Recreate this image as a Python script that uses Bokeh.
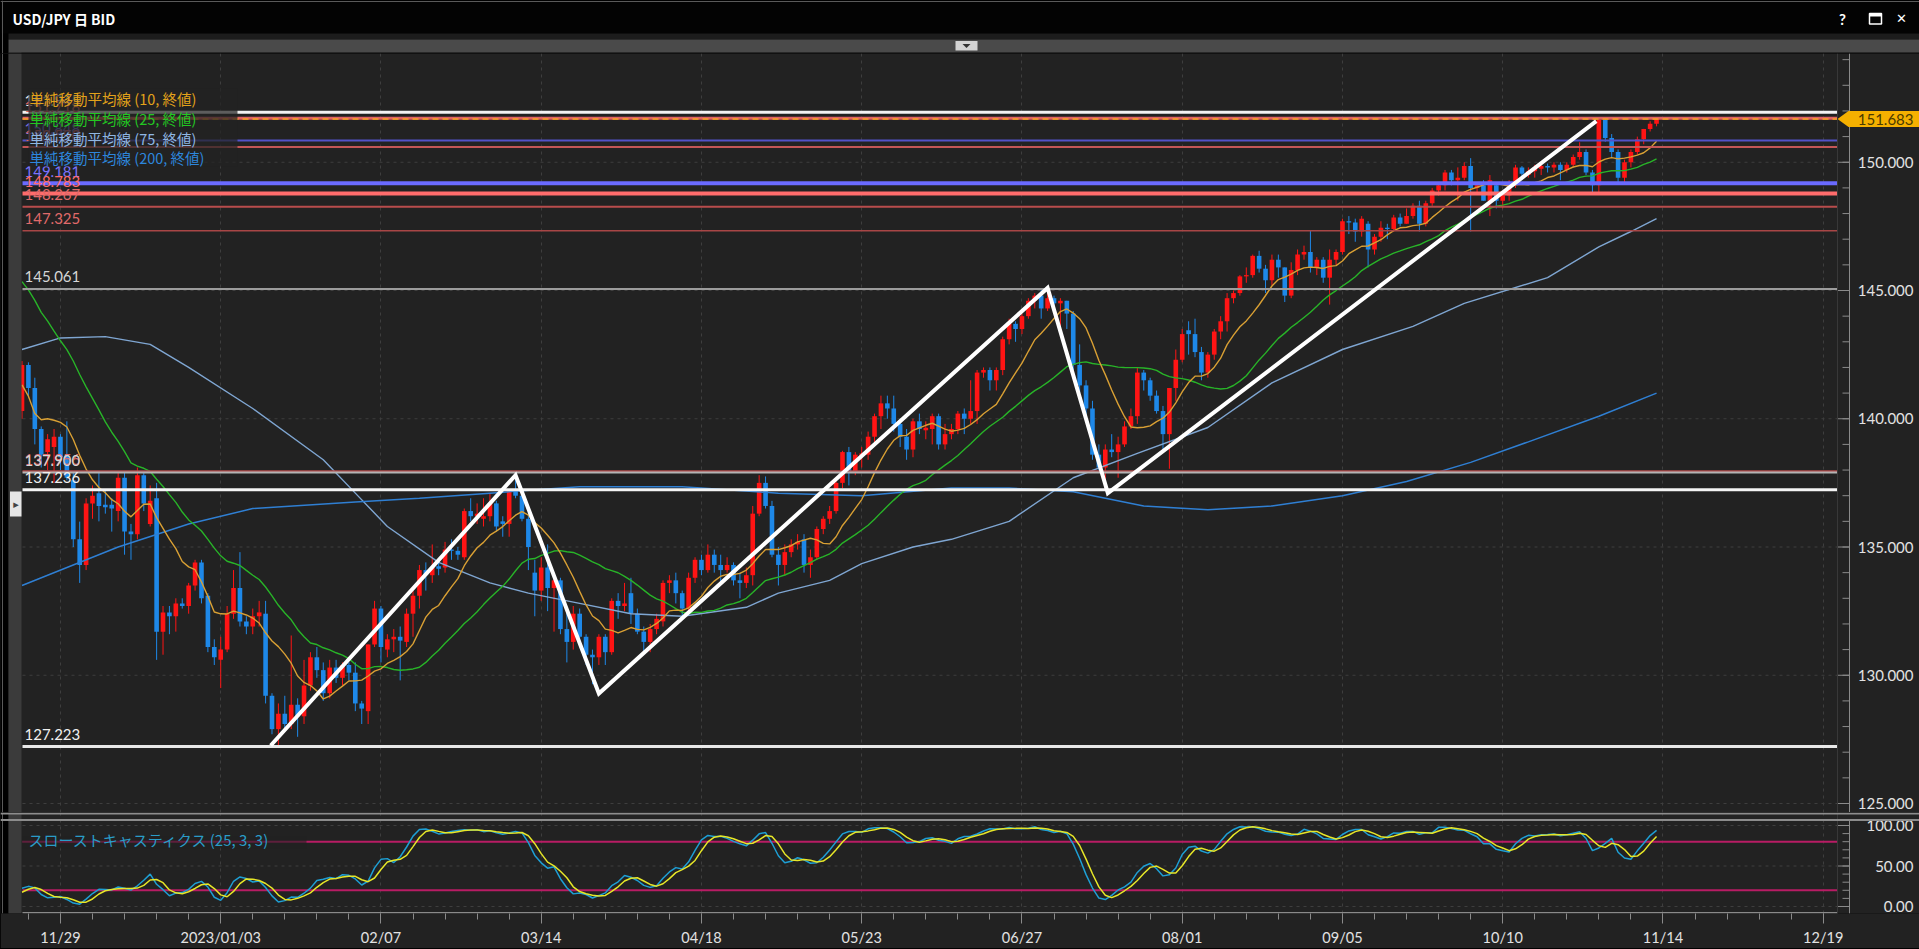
import numpy as np
import pandas as pd
from bokeh.plotting import figure
from bokeh.layouts import column
from bokeh.models import (Range1d, FixedTicker, Grid, Span, ColumnDataSource)
from bokeh.core.properties import value
from bokeh.embed import file_html
from bokeh.resources import INLINE

# ---------------------------------------------------------------- data
start_date = "2022-11-21"

# bars before the visible window (only used for the indicators)
pre_high = [145.9, 146.0, 146.9, 147.7, 148.9, 149.1, 149.3, 149.9, 150.3, 151.9,
            149.7, 149.1, 148.2, 146.9, 148.0, 148.8, 148.8, 148.4, 148.4, 148.4,
            147.3, 146.6, 146.8, 146.8, 142.5, 140.8, 140.2, 140.0, 140.8, 140.6]
pre_low = [145.3, 145.4, 145.7, 146.5, 146.9, 148.4, 148.9, 149.1, 149.6, 146.2,
           145.5, 147.5, 145.9, 145.1, 145.7, 147.1, 146.9, 145.7, 147.0, 146.6,
           145.9, 145.3, 145.2, 140.9, 138.5, 138.8, 137.7, 138.9, 139.1, 139.6]
pre_close = [145.7, 145.8, 146.8, 147.2, 148.7, 149.0, 149.2, 149.9, 150.2, 147.7,
             149.0, 148.0, 146.4, 146.3, 147.5, 148.7, 148.2, 147.9, 148.2, 146.6,
             146.6, 145.6, 146.4, 141.0, 138.8, 139.9, 139.3, 139.5, 140.2, 140.4]

opens = [
    140.3, 142.1, 141.2, 139.6, 138.7,   138.9, 139.3, 138.6, 137.6, 135.3,
    134.3, 136.7, 137.1, 136.65, 136.65, 136.4, 137.7, 135.6, 135.5, 137.8,
    135.9, 136.9, 131.7, 132.45, 132.3,  132.8, 132.7, 133.5, 134.4, 133.1,
    131.1, 130.6, 131.0, 132.4, 133.4,   132.1, 131.9, 132.3, 132.4, 129.2,
    127.9, 128.5, 128.1, 128.85, 128.4,  129.6, 130.7, 130.2, 129.3, 130.3,
    129.9, 130.4, 130.1, 128.9, 128.6,   131.2, 132.6, 131.0, 131.4, 131.5,
    131.3, 132.4, 133.1, 134.1, 133.9,   134.25, 134.2, 134.9, 134.85, 134.6,
    136.4, 136.2, 136.1, 136.2, 136.7,   136.0, 135.9, 137.2, 137.0, 136.1,
    134.0, 133.3, 134.2, 133.4, 133.7,   131.8, 131.3, 132.4, 131.5, 130.8,
    130.7, 131.5, 130.9, 132.9, 132.7,   133.2, 132.4, 131.7, 131.3, 131.8,
    132.1, 133.6, 133.7, 133.2, 132.6,   133.8, 134.5, 134.1, 134.7, 134.3,
    134.1, 134.3, 133.7, 133.6, 133.9,   136.3, 137.5, 136.6, 134.7, 134.3,
    134.8, 135.1, 135.3, 134.3, 134.6,   135.7, 136.1, 136.4, 137.5, 138.7,
    137.95, 138.55, 138.6, 139.3, 140.1, 140.6, 140.4, 139.8, 139.3, 138.8,
    139.9, 139.55, 139.6, 140.1, 139.0,  139.4, 139.6, 140.2, 140.0, 140.3,
    141.8, 141.9, 141.5, 141.9, 143.1,   143.7, 143.5, 144.0, 144.6, 144.8,
    144.3, 144.7, 144.5, 144.6, 144.1,   142.1, 141.3, 140.4, 138.6, 138.1,
    138.8, 138.7, 139.0, 139.7, 140.1,   141.8, 141.5, 140.9, 140.3, 139.4,
    141.2, 142.3, 143.45, 143.3, 142.6,  141.8, 142.5, 143.4, 143.8, 144.7,
    144.9, 145.55, 145.6, 146.35, 145.85, 145.4, 146.2, 145.9, 144.8, 145.8,
    146.4, 146.5, 145.9, 146.2, 145.5,   146.2, 146.5, 147.7, 147.65, 147.3,
    147.6, 146.6, 147.1, 147.45, 147.4,  147.85, 147.6, 147.9, 148.3, 147.6,
    148.4, 148.9, 149.1, 149.6, 149.3,   149.4, 149.85, 149.0, 149.1, 148.5,
    149.1, 148.5, 148.7, 149.1, 149.8,   149.5, 149.65, 149.75, 149.85, 149.8,
    149.9, 149.7, 149.9, 150.2, 150.4,   149.6, 149.1, 151.65, 150.95, 150.4,
    149.4, 150.0, 150.4, 150.9, 151.3,   151.5]
highs = [
    142.25, 142.2, 141.6, 139.7, 139.4,  139.6, 139.4, 139.9, 137.9, 135.99,
    136.9, 137.4, 137.9, 137.2, 136.9,   137.9, 137.9, 135.9, 138.1, 137.9,
    137.4, 137.5, 132.7, 132.7, 133.0,   133.0, 133.6, 134.5, 134.5, 133.2,
    131.4, 131.5, 132.7, 134.1, 134.8,   132.3, 132.6, 132.9, 132.9, 129.3,
    128.9, 129.2, 131.55, 129.1, 130.6,  130.9, 131.1, 130.5, 130.6, 130.6,
    130.5, 130.5, 130.5, 129.0, 131.2,   132.9, 132.7, 131.6, 131.8, 131.9,
    132.6, 133.3, 134.3, 134.4, 135.1,   134.5, 135.2, 135.3, 135.0, 136.5,
    136.9, 136.7, 136.9, 137.1, 136.8,   136.2, 137.2, 137.9, 137.2, 136.6,
    134.5, 134.6, 135.1, 133.8, 133.8,   132.6, 132.7, 132.6, 131.6, 131.0,
    131.6, 131.6, 133.0, 133.2, 133.6,   133.8, 132.6, 131.9, 132.0, 132.4,
    133.7, 133.9, 134.0, 133.3, 134.0,   134.6, 134.7, 135.1, 134.9, 134.7,
    134.6, 134.4, 134.0, 134.2, 136.6,   137.8, 137.75, 136.8, 135.0, 135.1,
    135.3, 135.5, 135.5, 134.9, 135.8,   136.2, 136.6, 137.6, 138.75, 138.9,
    138.7, 138.9, 139.5, 140.2, 140.9,   140.9, 140.9, 140.0, 139.6, 140.0,
    140.2, 139.9, 140.2, 140.2, 139.8,   139.8, 140.3, 140.4, 141.5, 141.9,
    142.0, 142.0, 142.0, 143.2, 143.9,   143.8, 144.1, 144.7, 144.9, 145.07,
    144.9, 144.8, 144.7, 144.6, 144.2,   142.9, 141.5, 140.7, 139.0, 139.0,
    139.4, 139.3, 139.9, 140.4, 142.0,   141.9, 141.6, 141.1, 140.5, 141.2,
    142.7, 143.5, 143.8, 143.9, 142.8,   142.6, 143.5, 144.0, 144.9, 145.0,
    145.6, 145.9, 146.4, 146.55, 146.0,  146.4, 146.4, 145.9, 146.1, 146.6,
    146.75, 147.35, 146.3, 146.3, 146.6, 146.6, 147.8, 147.9, 147.8, 147.9,
    147.7, 147.2, 147.7, 147.6, 147.95,  148.0, 148.2, 148.4, 148.5, 148.5,
    149.0, 149.2, 149.7, 149.7, 149.8,   150.0, 150.16, 149.2, 149.3, 149.5,
    149.2, 148.9, 149.3, 149.9, 149.85,  149.8, 149.9, 149.9, 149.95, 150.0,
    150.0, 150.0, 150.3, 150.78, 150.5,  149.7, 151.7, 151.7, 151.1, 150.5,
    150.1, 150.5, 151.0, 151.3, 151.6,   151.75]
lows = [
    140.0, 140.9, 139.0, 138.1, 138.0,   137.5, 138.0, 137.6, 135.0, 133.6,
    134.1, 136.1, 136.0, 136.3, 135.6,   136.0, 134.7, 134.5, 135.3, 136.4,
    135.8, 130.6, 130.8, 131.6, 131.7,   132.6, 132.4, 133.3, 132.8, 130.9,
    130.4, 129.5, 130.9, 132.2, 131.9,   131.6, 131.6, 131.9, 128.9, 127.7,
    127.22, 127.9, 127.9, 127.6, 128.1,  129.4, 129.9, 129.0, 129.1, 129.7,
    129.6, 129.8, 128.6, 128.1, 128.1,   131.1, 130.5, 130.7, 130.9, 129.8,
    131.1, 131.5, 132.6, 133.3, 133.6,   133.9, 134.0, 134.5, 134.5, 134.5,
    136.0, 135.9, 135.8, 136.0, 135.6,   135.4, 135.4, 136.9, 136.0, 134.1,
    132.3, 132.9, 132.5, 131.7, 131.6,   130.5, 131.0, 131.3, 130.4, 129.65,
    130.4, 130.4, 130.8, 132.2, 132.5,   132.0, 131.6, 130.85, 130.9, 131.6,
    131.9, 133.2, 132.8, 132.2, 132.5,   133.6, 133.9, 134.0, 134.0, 133.6,
    134.0, 133.5, 133.0, 133.4, 133.5,   136.2, 136.5, 134.6, 133.5, 133.9,
    134.6, 134.9, 134.0, 133.8, 134.5,   135.5, 135.9, 136.3, 137.3, 137.4,
    137.8, 138.1, 138.4, 139.1, 139.6,   140.0, 139.5, 138.9, 138.4, 138.5,
    139.4, 139.2, 139.0, 138.8, 138.8,   139.2, 139.4, 139.4, 139.8, 139.8,
    141.6, 141.1, 141.1, 141.7, 142.9,   143.0, 143.3, 143.9, 144.3, 143.9,
    144.2, 144.3, 143.6, 143.5, 141.9,   141.0, 140.1, 138.4, 137.9, 137.24,
    138.5, 137.7, 138.9, 139.6, 139.8,   141.1, 140.7, 140.2, 138.8, 138.05,
    140.7, 142.2, 142.5, 142.4, 141.5,   141.6, 142.3, 143.1, 143.4, 144.5,
    144.8, 145.3, 145.5, 145.7, 144.9,   145.2, 145.5, 144.55, 144.7, 145.6,
    146.2, 145.7, 145.6, 145.3, 144.45,  146.0, 146.4, 147.2, 146.9, 147.1,
    145.9, 146.4, 146.9, 147.0, 147.3,   147.5, 147.6, 147.8, 147.3, 147.5,
    148.3, 148.7, 148.9, 149.1, 148.5,   149.3, 147.3, 148.8, 148.5, 147.9,
    148.2, 148.2, 148.5, 149.0, 149.3,   149.4, 149.4, 149.5, 149.6, 149.6,
    149.3, 149.6, 149.8, 150.1, 149.5,   148.8, 148.8, 150.8, 150.2, 149.2,
    149.2, 149.8, 150.3, 150.7, 151.2,   151.4]
closes = [
    142.1, 141.2, 139.6, 138.6, 139.2,   139.3, 138.5, 137.7, 135.3, 134.3,
    136.7, 137.0, 136.6, 136.55, 136.5,  137.7, 135.6, 135.5, 137.8, 136.7,
    136.8, 131.7, 132.45, 132.3, 132.8,  132.7, 133.5, 134.4, 133.0, 131.1,
    130.7, 131.0, 132.4, 133.4, 132.1,   131.9, 132.3, 132.45, 129.2, 127.9,
    128.5, 128.1, 128.85, 128.4, 129.6,  130.7, 130.2, 129.3, 130.3, 129.9,
    130.4, 130.1, 128.9, 128.7, 131.2,   132.6, 131.1, 131.4, 131.5, 131.35,
    132.4, 133.1, 134.1, 133.9, 134.2,   134.15, 134.9, 134.85, 134.7, 136.4,
    136.2, 136.3, 136.2, 136.7, 135.8,   135.9, 137.2, 137.0, 136.1, 135.0,
    133.3, 134.2, 133.4, 133.7, 131.8,   131.3, 132.4, 131.5, 130.8, 130.7,
    131.5, 130.9, 132.9, 132.7, 132.8,   132.4, 131.7, 131.3, 131.8, 132.2,
    133.6, 133.7, 133.2, 132.6, 133.8,   134.5, 134.1, 134.7, 134.3, 134.1,
    134.3, 133.7, 133.6, 133.9, 136.3,   137.5, 136.6, 134.7, 134.3, 134.8,
    135.1, 135.2, 134.3, 134.6, 135.7,   136.1, 136.4, 137.5, 138.7, 137.95,
    138.6, 138.65, 139.3, 140.1, 140.6,  140.4, 139.8, 139.3, 138.8, 139.9,
    139.6, 139.65, 140.1, 139.0, 139.4,  139.6, 140.2, 140.0, 140.3, 141.8,
    141.9, 141.5, 141.9, 143.1, 143.7,   143.5, 144.0, 144.6, 144.8, 144.3,
    144.7, 144.5, 144.6, 144.1, 142.1,   141.3, 140.4, 138.6, 138.1, 138.8,
    138.7, 139.0, 139.7, 140.1, 141.8,   141.5, 140.9, 140.3, 139.4, 141.2,
    142.3, 143.3, 143.3, 142.6, 141.8,   142.5, 143.4, 143.8, 144.7, 144.9,
    145.55, 145.6, 146.35, 145.85, 145.4, 146.2, 145.9, 144.8, 145.8, 146.4,
    146.5, 145.9, 146.2, 145.5, 146.2,   146.5, 147.7, 147.65, 147.3, 147.8,
    146.6, 147.1, 147.45, 147.4, 147.85, 147.6, 147.9, 148.3, 147.6, 148.4,
    148.9, 149.1, 149.6, 149.3, 149.4,   149.85, 149.0, 149.1, 148.5, 149.3,
    148.5, 148.7, 149.1, 149.8, 149.55,  149.65, 149.8, 149.85, 149.8, 149.9,
    149.7, 149.9, 150.2, 150.4, 149.6,   149.1, 151.65, 150.95, 150.4, 149.4,
    150.0, 150.4, 150.9, 151.3, 151.5,   151.683]

# long moving averages (bar index, value)
ma75_bar = [0, 6, 13, 20, 26, 36, 47, 52, 57, 65, 73, 79, 87, 95, 103, 113, 118, 126,
            131, 139, 145, 154, 164, 174, 185, 195, 206, 217, 225, 238, 246, 251, 255]
ma75_val = [142.7, 143.15, 143.2, 142.9, 142.0, 140.4, 138.4, 137.1, 135.8, 134.4,
            133.6, 133.2, 132.8, 132.4, 132.3, 132.65, 133.2, 133.7, 134.35, 135.0,
            135.3, 136.0, 137.7, 138.65, 139.66, 141.4, 142.7, 143.6, 144.5, 145.5,
            146.7, 147.3, 147.8]
ma200_bar = [0, 15, 26, 36, 52, 62, 73, 87, 103, 118, 131, 145, 154, 164, 175, 185,
             195, 206, 216, 226, 235, 246, 255]
ma200_val = [133.5, 135.0, 135.9, 136.5, 136.75, 136.9, 137.1, 137.35, 137.35, 137.1,
             137.0, 137.3, 137.3, 137.15, 136.6, 136.45, 136.6, 137.0, 137.55, 138.3,
             139.1, 140.1, 141.0]

# horizontal support / resistance lines
level_vals = [151.945, 151.718, 150.848, 150.590, 149.181, 148.783, 148.267, 147.325,
              145.061, 137.956, 137.900, 137.236, 127.223]
# zig-zag trend line (bar index, price)
trend_bar = [38.8, 77, 90, 160, 169.4, 245.6]
trend_val = [127.26, 137.8, 129.29, 145.1, 137.1, 151.6]

price_ticks = [125, 130, 135, 140, 145, 150]
price_minor = list(range(124, 155))
stoch_ticks = [0, 50, 100]
stoch_minor = list(range(0, 101, 10))
stoch_levels = [80, 20]
tick_dates = ["2022-11-29", "2023-01-03", "2023-02-07", "2023-03-14", "2023-04-18",
              "2023-05-23", "2023-06-27", "2023-08-01", "2023-09-05", "2023-10-10",
              "2023-11-14", "2023-12-19"]
tick_labels = ["11/29", "2023/01/03", "02/07", "03/14", "04/18", "05/23", "06/27",
               "08/01", "09/05", "10/10", "11/14", "12/19"]
ma_legend = ["単純移動平均線 (10, 終値)", "単純移動平均線 (25, 終値)",
             "単純移動平均線 (75, 終値)", "単純移動平均線 (200, 終値)"]
title_text = "USD/JPY 日 BID"
stoch_title = "スローストキャスティクス (25, 3, 3)"

# ---------------------------------------------------------------- geometry helpers (page px -> data)
BAR0_PX, BAR_PX = 21.5, 6.41
def bx(px):
    return (px - BAR0_PX) / BAR_PX
def py(y):
    return 125 + (803 - y) / 25.65
def sy(y):
    return 100 - (y - 825) / 0.81

# ---------------------------------------------------------------- derived
n = len(closes)
bars = np.arange(n)
bdays = pd.bdate_range(start_date, periods=320)
tick_pos = [int(bdays.get_loc(pd.Timestamp(d))) for d in tick_dates]
minor_pos = [i for i, d in enumerate(bdays) if d.dayofweek == 1 and i <= bx(1837)]

all_c = pd.Series(pre_close + closes)
all_h = pd.Series(pre_high + highs)
all_l = pd.Series(pre_low + lows)
ma10 = all_c.rolling(10).mean().values[-n:]
ma25 = all_c.rolling(25).mean().values[-n:]
hh = all_h.rolling(25).max()
ll = all_l.rolling(25).min()
raw_k = 100 * (all_c - ll) / (hh - ll)
slow_k = raw_k.rolling(3).mean()
slow_d = slow_k.rolling(3).mean()
slow_k = slow_k.values[-n:]
slow_d = slow_d.values[-n:]

o = np.array(opens); c = np.array(closes)
body_top = np.maximum(o, c)
body_bot = np.minimum(o, c)
thin = (body_top - body_bot) < 0.04
body_top = np.where(thin, body_top + 0.02, body_top)
body_bot = np.where(thin, body_bot - 0.02, body_bot)
UP, DOWN = "#ff1414", "#1e88e8"
cols = [UP if cc >= oo else DOWN for oo, cc in zip(opens, closes)]

W = 1919
BG = "#222222"
AX = "#8a8a8a"
TXT = "#e2e2e2"
GRID = "#3e3e3e"
JP = value("Noto Sans CJK JP")
LATO = value("Lato")
X_LEFT, X_END, X_AXIS = bx(22), bx(1837), bx(1849)

# ---------------------------------------------------------------- header
hdr = figure(width=W, height=53, x_range=Range1d(0, W), y_range=Range1d(53, 0),
             toolbar_location=None, output_backend="svg", min_border=0,
             x_axis_location=None, y_axis_location=None,
             background_fill_color="#000000", border_fill_color="#000000",
             outline_line_color=None)
hdr.grid.visible = False
hdr.quad(left=[0, 8, 8, 8], right=[W] * 4, top=[0, 33, 39, 52], bottom=[33, 39, 52, 53],
         fill_color=["#030303", "#1c1c1c", "#4a4a4a", "#2c2c2c"], line_color=None)
hdr.segment(x0=[0, 2], y0=[1, 0], x1=[W, 2], y1=[1, 53], line_color="#5a5a5a", line_width=1)
hdr.text(x=[12], y=[18], text=[title_text], text_color="#ffffff", text_font=JP,
         text_font_style="bold", text_font_size="14px", text_baseline="middle")
hdr.text(x=[1842], y=[18], text=["?"], text_color="#ffffff", text_font=LATO,
         text_font_style="bold", text_font_size="15px", text_baseline="middle", text_align="center")
hdr.quad(left=[1869], right=[1881], top=[13], bottom=[23.5], fill_color=None,
         line_color="#ffffff", line_width=1.5)
hdr.quad(left=[1869], right=[1881], top=[13], bottom=[16], fill_color="#ffffff", line_color=None)
hdr.text(x=[1901], y=[18], text=["✕"], text_color="#ffffff", text_font=value("DejaVu Sans"),
         text_font_style="bold", text_font_size="13px", text_baseline="middle", text_align="center")
hdr.quad(left=[955], right=[977], top=[40.5], bottom=[50], fill_color="#d4d4d4", line_color=None)
hdr.patch(x=[962, 970, 966], y=[43.5, 43.5, 47.5], fill_color="#333333", line_color=None)
hdr.quad(left=[8], right=[21], top=[52], bottom=[53], fill_color="#3b3b3b", line_color=None)

# ---------------------------------------------------------------- main price panel
main = figure(width=W, height=759, x_range=Range1d(bx(0), bx(W)),
              y_range=Range1d(py(812), py(53)), toolbar_location=None, output_backend="svg",
              x_axis_location=None, y_axis_location=None, min_border=0,
              background_fill_color=BG, border_fill_color=BG, outline_line_color=None)
main.grid.visible = False
main.add_layout(Grid(dimension=0, ticker=FixedTicker(ticks=tick_pos), grid_line_color=GRID,
                     grid_line_dash="3 4", grid_line_width=1))
main.segment(x0=X_LEFT, x1=X_END, y0=price_ticks, y1=price_ticks, line_color=GRID,
             line_dash="3 4", line_width=1)
main.add_layout(Span(location=X_END, dimension="height", line_color="#383838", line_width=1))

# price axis (right side)
main.segment(x0=X_AXIS, x1=X_AXIS, y0=py(53), y1=py(812), line_color=AX, line_width=1)
main.segment(x0=bx(1837), x1=X_AXIS, y0=price_ticks, y1=price_ticks, line_color=AX, line_width=1)
main.segment(x0=bx(1842), x1=X_AXIS, y0=price_minor, y1=price_minor, line_color=AX, line_width=1)
main.text(x=[bx(1913)] * len(price_ticks), y=price_ticks, text=[f"{t:.3f}" for t in price_ticks],
          text_color=TXT, text_font=LATO, text_font_size="15px", text_baseline="middle",
          text_align="right")

# candles
src = ColumnDataSource(dict(x=bars, h=highs, l=lows, top=body_top, bot=body_bot, col=cols))
main.segment(x0="x", y0="h", x1="x", y1="l", line_color="col", line_width=1, source=src)
main.vbar(x="x", width=0.72, top="top", bottom="bot", fill_color="col", line_color=None, source=src)

# moving averages
main.line(ma75_bar, ma75_val, line_color="#7fa6d2", line_width=1.4)
main.line(ma200_bar, ma200_val, line_color="#2f7fd3", line_width=1.5)
main.line(bars, ma25, line_color="#28b428", line_width=1.4)
main.line(bars, ma10, line_color="#d9a034", line_width=1.4)

# support / resistance lines
level_colors = ["#f2f2f2", "#e06262", "#5252c8", "#c45656", "#6a6aff", "#ff6c6c", "#b84c4c",
                "#a84646", "#9c9c9c", "#b04a4a", "#b4b4b4", "#f4f4f4", "#e8e8e8"]
level_widths = [3, 3, 2, 2, 4, 4, 2, 1.5, 2, 2, 2, 3, 3]
level_text_colors = ["#f0f0f0", "#e06262", "#7a70e0", "#d86464", "#7a72ff", "#ff6c6c", "#e06a6a",
                     "#e06a6a", "#d6d6d6", "#e06a6a", "#d6d6d6", "#f0f0f0", "#f0f0f0"]
main.segment(x0=X_LEFT, x1=X_END, y0=level_vals, y1=level_vals,
             line_color=level_colors, line_width=level_widths)
main.text(x=[bx(24)] * len(level_vals), y=level_vals, text=[f"{v:.3f}" for v in level_vals],
          text_color=level_text_colors, text_font=LATO, text_font_size="15px",
          text_baseline="middle", y_offset=-12)

last_price = closes[-1]
main.segment(x0=X_LEFT, x1=X_END, y0=last_price, y1=last_price, line_color="#f5a623",
             line_width=1.5, line_dash="6 4")

# zig-zag trend line
main.line(trend_bar, trend_val, line_color="#ffffff", line_width=4, line_join="miter")

# legend box + legend
main.quad(left=[bx(28)], right=[bx(237)], top=[py(88)], bottom=[py(166)], fill_color=BG,
          fill_alpha=0.72, line_color=None)
main.text(x=[bx(29)] * 4, y=[py(98), py(118), py(138), py(157)], text=ma_legend,
          text_color=["#e3a21a", "#22c722", "#8fb6e2", "#2d86dc"], text_font=JP,
          text_font_size="14.5px", text_baseline="middle")

# left frame + side bar
main.quad(left=[bx(0), bx(8)], right=[bx(8), bx(21)], top=[py(53)] * 2, bottom=[py(812)] * 2,
          fill_color=["#000000", "#3b3b3b"], line_color=None)
main.segment(x0=[bx(2)], x1=[bx(2)], y0=[py(53)], y1=[py(812)], line_color="#5a5a5a", line_width=1)
main.quad(left=[bx(9.5)], right=[bx(21)], top=[py(491)], bottom=[py(516)], fill_color="#e6e6e6",
          line_color=None)
main.text(x=[bx(15.5)], y=[py(503.5)], text=["▸"], text_color="#444444",
          text_font=value("DejaVu Sans"), text_font_size="11px", text_baseline="middle",
          text_align="center")

# current-price tag on the axis
half = 8 / 25.65
main.patch(x=[bx(1837), bx(1848), bx(W), bx(W), bx(1848)],
           y=[last_price, last_price + half, last_price + half, last_price - half, last_price - half],
           fill_color="#f5b000", line_color=None)
main.text(x=[bx(1913)], y=[last_price], text=[f"{last_price:.3f}"], text_color="#4a3a00",
          text_font=LATO, text_font_size="15px", text_baseline="middle", text_align="right")

# ---------------------------------------------------------------- stochastics panel
sto = figure(width=W, height=136, x_range=main.x_range, y_range=Range1d(sy(913), sy(812)),
             toolbar_location=None, output_backend="svg", y_axis_location=None,
             min_border_left=0, min_border_right=0, min_border_top=0, min_border_bottom=35,
             background_fill_color=BG, border_fill_color=BG, outline_line_color=None)
sto.grid.visible = False
sto.add_layout(Grid(dimension=0, ticker=FixedTicker(ticks=tick_pos), grid_line_color=GRID,
                    grid_line_dash="3 4"))
sto.segment(x0=X_LEFT, x1=X_END, y0=stoch_ticks, y1=stoch_ticks, line_color=GRID,
            line_dash="3 4", line_width=1)
sto.add_layout(Span(location=X_END, dimension="height", line_color="#383838", line_width=1))

sax = sto.xaxis[0]
sax.ticker = FixedTicker(ticks=tick_pos, minor_ticks=minor_pos)
sax.major_label_overrides = {p: t for p, t in zip(tick_pos, tick_labels)}
sax.axis_line_color = None
sax.major_tick_line_color = AX
sax.minor_tick_line_color = AX
sax.major_tick_in = 0
sax.major_tick_out = 10
sax.minor_tick_in = 0
sax.minor_tick_out = 6
sax.major_label_standoff = 5
sax.major_label_text_color = TXT
sax.major_label_text_font = "Lato"
sax.major_label_text_font_size = "14.5px"

# stochastic axis (right side)
sto.segment(x0=X_AXIS, x1=X_AXIS, y0=sy(819.5), y1=sy(913), line_color=AX, line_width=1)
sto.segment(x0=bx(1837), x1=X_AXIS, y0=stoch_ticks, y1=stoch_ticks, line_color=AX, line_width=1)
sto.segment(x0=bx(1842), x1=X_AXIS, y0=stoch_minor, y1=stoch_minor, line_color=AX, line_width=1)
sto.text(x=[bx(1913)] * 3, y=stoch_ticks, text=[f"{t:.2f}" for t in stoch_ticks],
         text_color=TXT, text_font=LATO, text_font_size="15px", text_baseline="middle",
         text_align="right")
# x-axis line
sto.segment(x0=[X_LEFT], x1=[X_END], y0=[sy(912.3)], y1=[sy(912.3)], line_color=AX, line_width=1.5)

# panel separator
sto.add_layout(Span(location=sy(813), dimension="width", line_color="#8c8c8c", line_width=2))
sto.add_layout(Span(location=sy(819.5), dimension="width", line_color="#8c8c8c", line_width=2))

sto.segment(x0=X_LEFT, x1=X_END, y0=stoch_levels, y1=stoch_levels, line_color="#b81c64",
            line_width=2)
sto.quad(left=[bx(22)], right=[bx(306)], top=[sy(836)], bottom=[sy(848)], fill_color=BG,
         fill_alpha=0.6, line_color=None)
sto.line(bars, slow_k, line_color="#1e9fd4", line_width=1.5)
sto.line(bars, slow_d, line_color="#e6e628", line_width=1.5)
sto.text(x=[bx(28)], y=[sy(839)], text=[stoch_title], text_color="#2a9cc8", text_font=JP,
         text_font_size="15px", text_baseline="middle")
sto.quad(left=[bx(0), bx(8)], right=[bx(8), bx(21)], top=[sy(812)] * 2, bottom=[sy(913)] * 2,
         fill_color=["#000000", "#3b3b3b"], line_color=None)
sto.segment(x0=[bx(2)], x1=[bx(2)], y0=[sy(812)], y1=[sy(913)], line_color="#5a5a5a", line_width=1)

layout = column(hdr, main, sto, spacing=0)
html = file_html(layout, INLINE, title="USD/JPY")
html = html.replace("<body>", '<body style="background:#000000;">')
open("out.html", "w").write(html)
